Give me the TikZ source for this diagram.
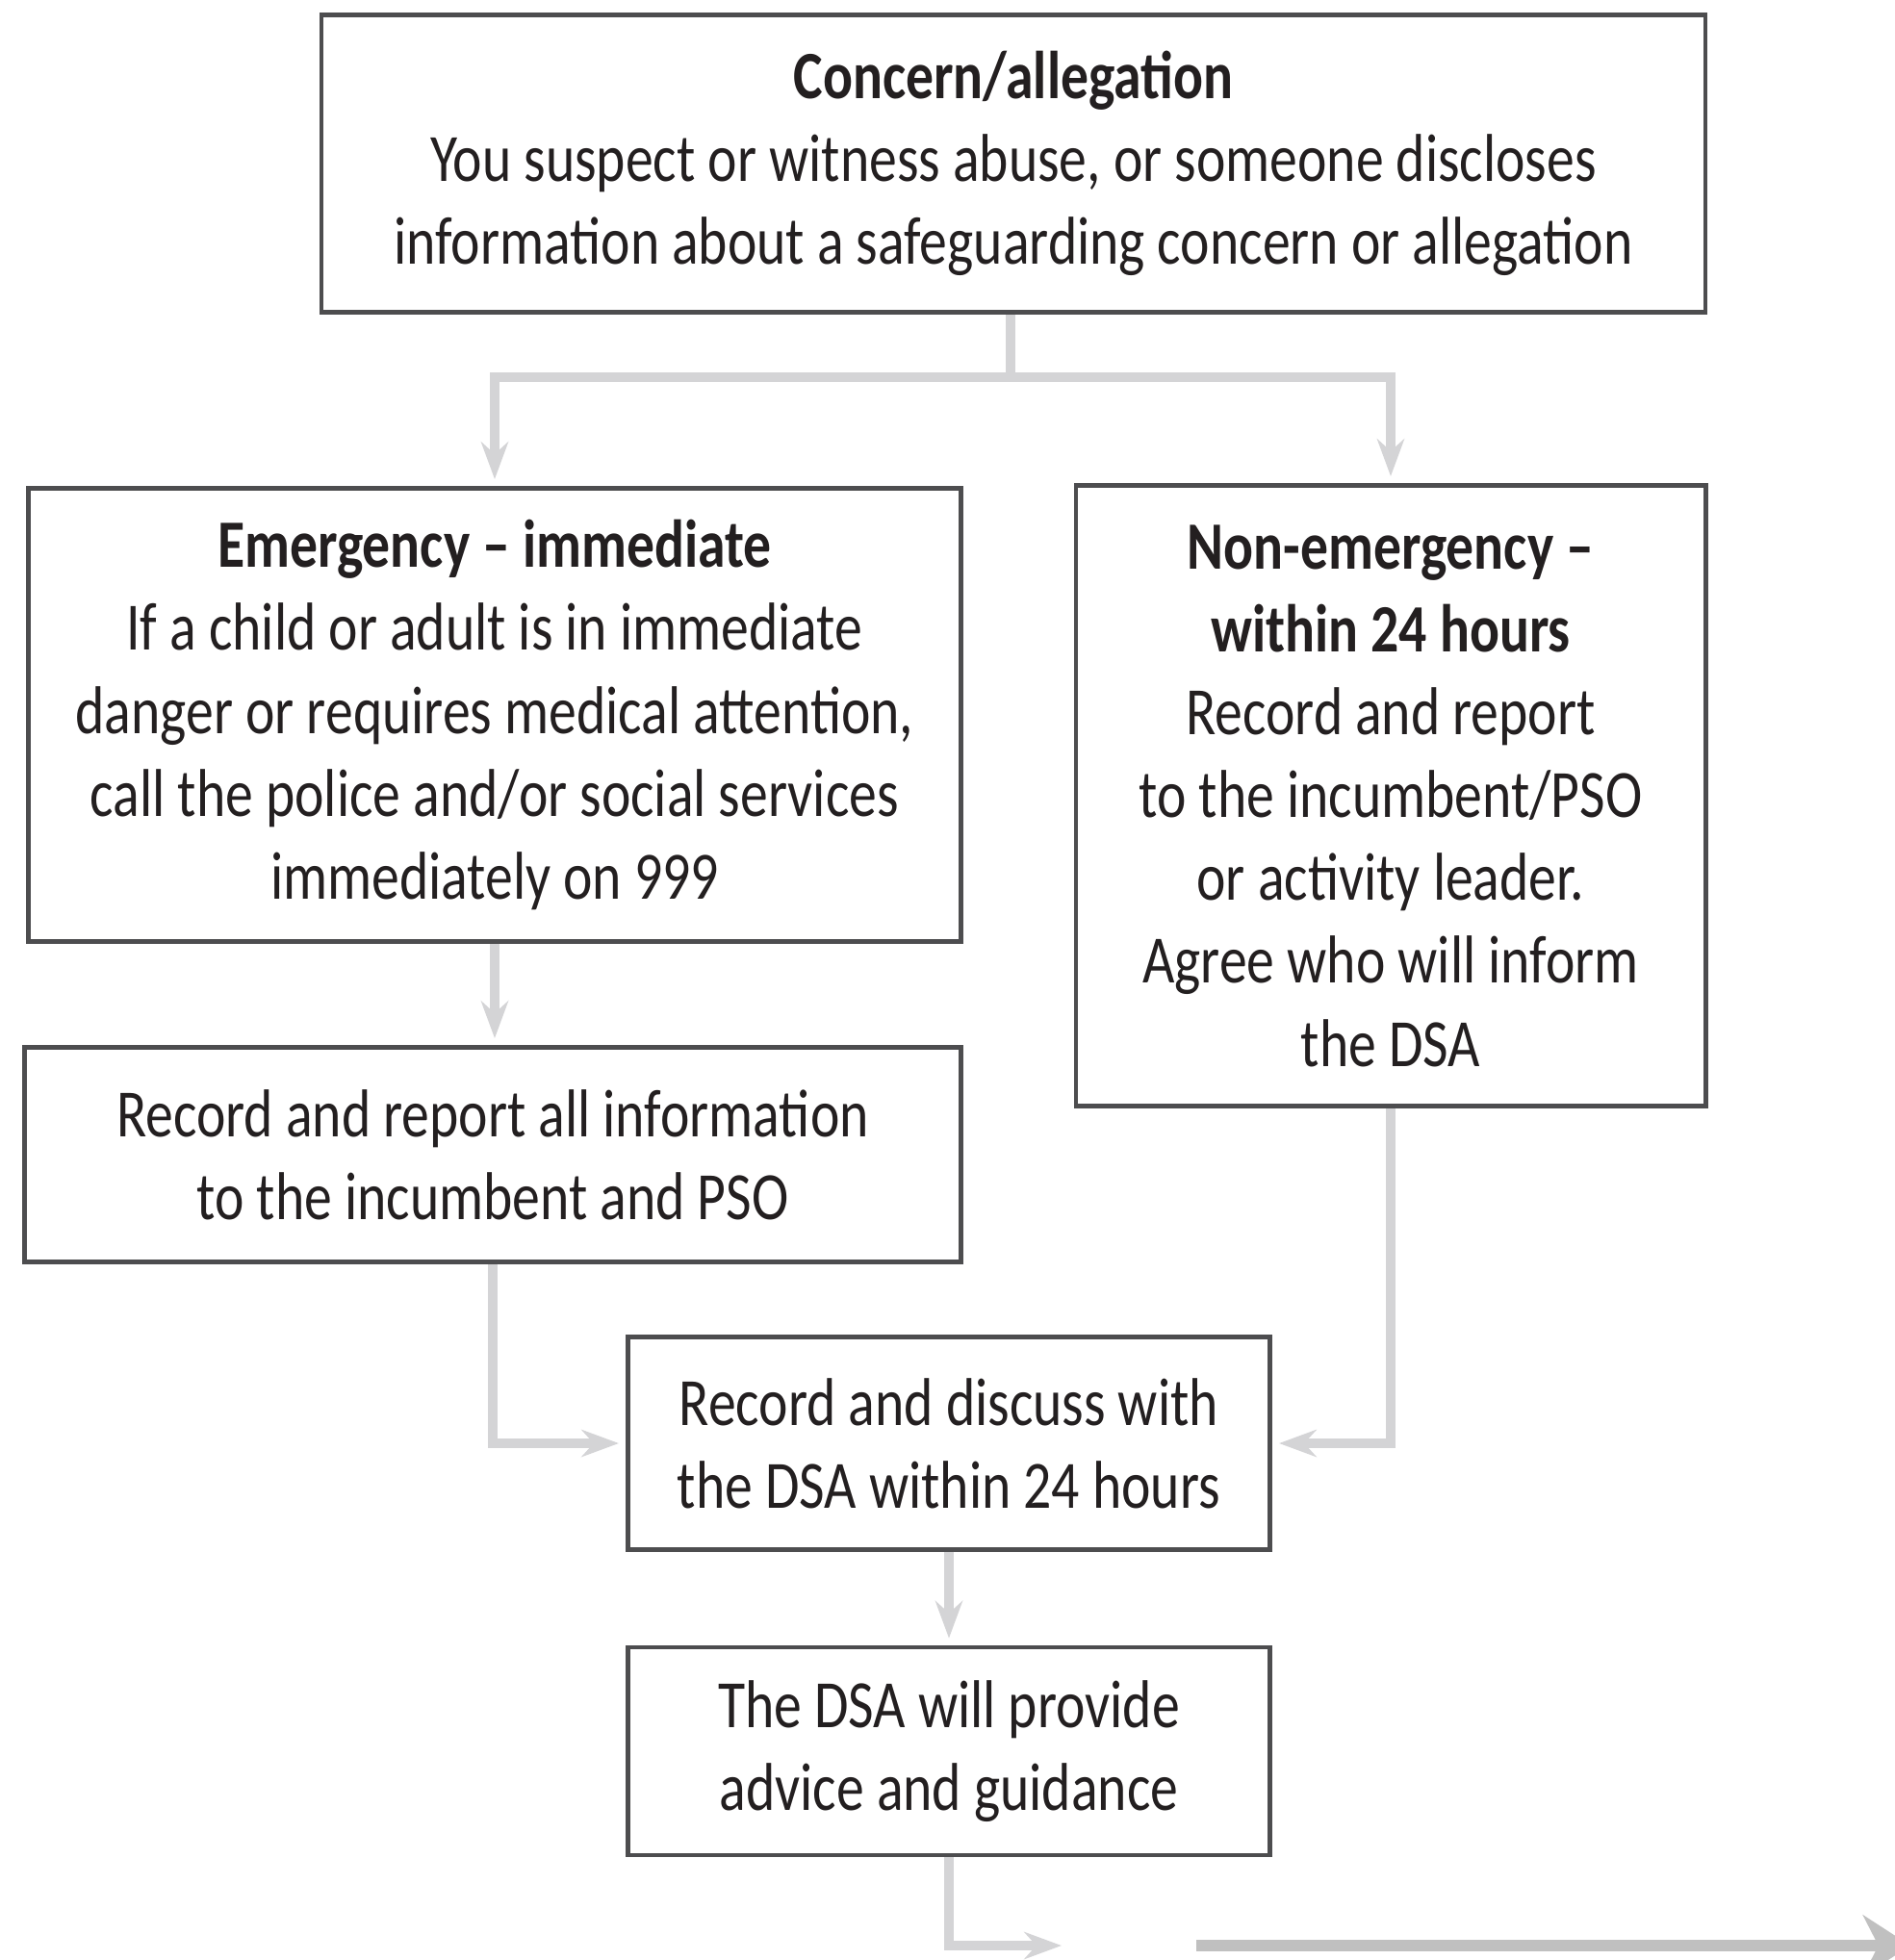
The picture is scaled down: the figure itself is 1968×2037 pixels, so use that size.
\documentclass[tikz,border=0pt]{standalone}
\usepackage{fontspec}
\setmainfont{Carlito}[FakeStretch=0.82]
\usetikzlibrary{arrows.meta}
\definecolor{linegray}{HTML}{D4D4D6}
\definecolor{outgray}{HTML}{C0C0C0}
\definecolor{boxgray}{HTML}{4D4D4F}
\definecolor{textgray}{HTML}{231F20}
\tikzstyle{box} = [draw=boxgray, line width=1.3pt, align=center, text=textgray, font=\fontsize{20}{24.5}\selectfont]
\tikzstyle{link} = [draw=linegray, line width=2.6pt]
\tikzstyle{arrow} = [link, -{Stealth[length=11pt,width=8pt]}, shorten >=2pt]

\begin{document}
\begin{tikzpicture}[x=0.01cm, y=-0.01cm]

\useasboundingbox (0,0) rectangle (1968,2037);

\node[box, minimum width=14.37cm, minimum height=3.09cm] (concern) at (1053,170)
  {\textbf{Concern/allegation}\\
   You suspect or witness abuse, or someone discloses\\
   information about a safeguarding concern or allegation};
\node[box, minimum width=9.68cm, minimum height=4.71cm] (emergency) at (514,743)
  {\textbf{Emergency – immediate}\\
   If a child or adult is in immediate\\
   danger or requires medical attention,\\
   call the police and/or social services\\
   immediately on 999};
\node[box, minimum width=6.54cm, minimum height=6.45cm] (nonemergency) at (1445,827)
  {\textbf{Non-emergency –}\\
   \textbf{within 24 hours}\\
   Record and report\\
   to the incumbent/PSO\\
   or activity leader.\\
   Agree who will inform\\
   the DSA};
\node[box, minimum width=9.72cm, minimum height=2.23cm] (report) at (512,1200)
  {Record and report all information\\
   to the incumbent and PSO};
\node[box, minimum width=6.67cm, minimum height=2.21cm] (discuss) at (986,1500)
  {Record and discuss with\\
   the DSA within 24 hours};
\node[box, minimum width=6.67cm, minimum height=2.16cm] (advice) at (986,1820)
  {The DSA will provide\\
   advice and guidance};

\coordinate (split) at (1050,392);
\coordinate (outend) at (1110,2022);
\coordinate (nextstart) at (1243,2022);
\coordinate (nextend) at (1985,2022);

% connectors
\draw[link] (concern.south -| split) -- (split);
\draw[arrow] (split) -| (emergency.north);
\draw[arrow] (split) -| (nonemergency.north);
\draw[arrow] (emergency.south) -- (emergency.south |- report.north);
\draw[arrow] (report.south) |- (discuss.west);
\draw[arrow] (nonemergency.south) |- (discuss.east);
\draw[arrow] (discuss.south) -- (advice.north);
\draw[arrow] (advice.south) |- (outend);
\draw[draw=outgray, line width=3.2pt, -{Stealth[length=14pt,width=18pt]}] (nextstart) -- (nextend);

\end{tikzpicture}
\end{document}
